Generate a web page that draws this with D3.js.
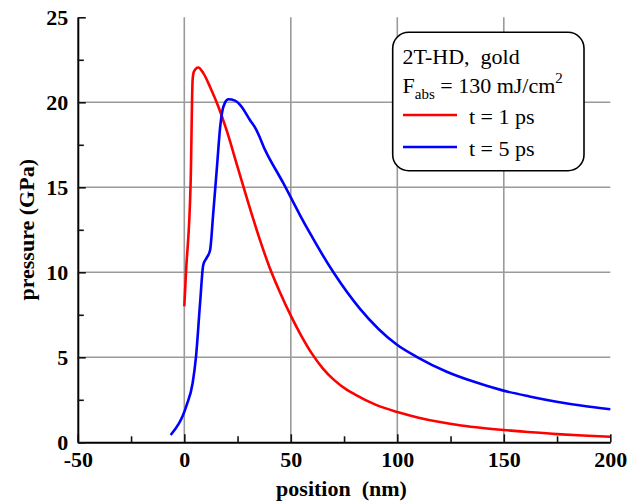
<!DOCTYPE html>
<html>
<head>
<meta charset="utf-8">
<script src="https://cdn.jsdelivr.net/npm/d3@7"></script>
<style>
  html, body { margin: 0; padding: 0; background: #fff; }
  svg { display: block; }
  text { font-family: "Liberation Serif", "Times New Roman", Times, serif; }
</style>
</head>
<body>
<svg id="chart" width="638" height="502"></svg>
<script>
// Pressure profiles from the two-temperature hydrodynamics (2T-HD) run, gold target
const position1ps = [0, 0.8, 3.0, 3.9, 4.5, 6.5, 9, 12.1, 16, 20, 25, 30, 35, 40, 45, 50, 55, 60, 65, 70, 76.2, 80, 90, 100, 110, 120, 130, 140, 150, 160, 175, 187, 200];
const pressure1ps = [8, 10, 15.4, 21.3, 21.8, 22.05, 21.7, 20.9, 19.74, 18.3, 16.2, 14.1, 12.1, 10.3, 8.8, 7.45, 6.25, 5.2, 4.35, 3.7, 3.1, 2.82, 2.2, 1.78, 1.45, 1.19, 0.99, 0.84, 0.72, 0.62, 0.48, 0.40, 0.33];

const position5ps = [-6.4, 1.1, 3.9, 5.5, 7.4, 8.9, 10.5, 12.1, 13.6, 15.4, 16.8, 17.8, 19.0, 20.7, 23.8, 26.2, 30.8, 33.5, 35.5, 37.9, 38.7, 46.5, 54.3, 59, 70, 82.5, 99.7, 109.5, 123.2, 135, 149.8, 162, 174.8, 187, 200];
const pressure5ps = [0.43, 2.19, 3.47, 5.04, 8.18, 10.43, 10.85, 11.3, 13.5, 16.3, 18.5, 19.45, 19.95, 20.18, 20.1, 19.85, 18.96, 18.45, 17.92, 17.2, 17.0, 15.24, 13.37, 12.3, 10.0, 7.85, 5.75, 5.0, 4.15, 3.6, 3.04, 2.7, 2.39, 2.15, 1.94];

const xTicks = [-50, 0, 50, 100, 150, 200];
const xMinorTicks = [-25, 25, 75, 125, 175];
const xGrid = [0, 50, 100, 150];
const yTicks = [0, 5, 10, 15, 20, 25];
const yMinorTicks = [2.5, 7.5, 12.5, 17.5, 22.5];
const yGrid = [5, 10, 15, 20];

const legendTitle = "2T-HD,  gold";
const legendSeries = ["t = 1 ps", "t = 5 ps"];
const seriesColors = ["#ff0000", "#0000ff"];

const svg = d3.select("#chart");
const plotLeft = 77.8, plotRight = 610.3, plotTop = 17.3, plotBottom = 442.3;

const x = d3.scaleLinear().domain([-50, 200]).range([plotLeft, plotRight]);
const y = d3.scaleLinear().domain([0, 25]).range([plotBottom, plotTop]);

// grid
const grid = svg.append("g").attr("stroke", "#9a9a9a").attr("stroke-width", 1.6);
grid.selectAll("line.vx").data(xGrid).join("line")
  .attr("x1", d => x(d)).attr("x2", d => x(d)).attr("y1", plotTop).attr("y2", plotBottom);
grid.selectAll("line.hy").data(yGrid).join("line")
  .attr("x1", plotLeft).attr("x2", plotRight).attr("y1", d => y(d)).attr("y2", d => y(d));

// curves
const line = d3.line().x(d => x(d[0])).y(d => y(d[1])).curve(d3.curveMonotoneX);
const series = [
  d3.zip(position1ps, pressure1ps),
  d3.zip(position5ps, pressure5ps)
];
svg.append("g").selectAll("path").data(series).join("path")
  .attr("d", line)
  .attr("fill", "none")
  .attr("stroke", (d, i) => seriesColors[i])
  .attr("stroke-width", 2.6)
  .attr("stroke-linejoin", "round");

// axes with inward ticks
function styleAxis(g) {
  g.selectAll("path.domain").attr("stroke", "#000").attr("stroke-width", 2);
  g.selectAll(".tick line").attr("stroke", "#111").attr("stroke-width", 1.6);
}
const plainNumber = d => String(d);
const xAxis = svg.append("g").attr("transform", `translate(0,${plotBottom})`)
  .call(d3.axisBottom(x).tickValues(xTicks).tickSizeInner(-8).tickSizeOuter(0).tickPadding(12).tickFormat(plainNumber));
xAxis.call(styleAxis);
xAxis.selectAll(".tick text")
  .attr("font-size", 22).attr("font-weight", "bold").attr("fill", "#000")
  .attr("font-family", "'Liberation Serif', 'Times New Roman', serif")
  .attr("y", 24.5).attr("dy", 0);
const xMinor = svg.append("g").attr("transform", `translate(0,${plotBottom})`)
  .call(d3.axisBottom(x).tickValues(xMinorTicks).tickSizeInner(-6).tickSizeOuter(0).tickFormat(""));
xMinor.select("path.domain").remove();
xMinor.call(styleAxis);

const yAxis = svg.append("g").attr("transform", `translate(${plotLeft},0)`)
  .call(d3.axisLeft(y).tickValues(yTicks).tickSizeInner(-8).tickSizeOuter(0).tickPadding(9).tickFormat(plainNumber));
yAxis.call(styleAxis);
yAxis.selectAll(".tick text")
  .attr("font-size", 22).attr("font-weight", "bold").attr("fill", "#000")
  .attr("font-family", "'Liberation Serif', 'Times New Roman', serif")
  .attr("x", -9.5).attr("dy", "0.34em");
const yMinor = svg.append("g").attr("transform", `translate(${plotLeft},0)`)
  .call(d3.axisLeft(y).tickValues(yMinorTicks).tickSizeInner(-6).tickSizeOuter(0).tickFormat(""));
yMinor.select("path.domain").remove();
yMinor.call(styleAxis);

// axis titles
svg.append("text")
  .attr("x", 341.5).attr("y", 495.5)
  .attr("text-anchor", "middle")
  .attr("font-size", 22).attr("font-weight", "bold")
  .style("white-space", "pre")
  .text("position  (nm)");
svg.append("text")
  .attr("transform", `translate(33.5,${(plotTop + plotBottom) / 2}) rotate(-90)`)
  .attr("text-anchor", "middle")
  .attr("font-size", 22).attr("font-weight", "bold")
  .text("pressure (GPa)");

// legend
const lg = svg.append("g");
lg.append("rect")
  .attr("x", 392.7).attr("y", 32.3).attr("width", 191.3).attr("height", 138.4)
  .attr("rx", 16).attr("ry", 16)
  .attr("fill", "#fff").attr("stroke", "#000").attr("stroke-width", 1.6);
lg.append("text")
  .attr("x", 402.5).attr("y", 64.3).attr("font-size", 22)
  .style("white-space", "pre")
  .text(legendTitle);
const f = lg.append("text").attr("x", 402.5).attr("y", 93.3).attr("font-size", 22);
f.append("tspan").text("F");
f.append("tspan").attr("font-size", 15).attr("dy", 6).text("abs");
f.append("tspan").attr("dy", -6).text(" = 130 mJ/cm");
f.append("tspan").attr("font-size", 15).attr("dy", -10).text("2");

const rows = lg.selectAll("g.row").data(legendSeries).join("g")
  .attr("transform", (d, i) => `translate(0,${115 + i * 32})`);
rows.append("line")
  .attr("x1", 403).attr("x2", 457).attr("y1", 0).attr("y2", 0)
  .attr("stroke", (d, i) => seriesColors[i]).attr("stroke-width", 2.6);
rows.append("text")
  .attr("x", 469).attr("y", 9).attr("font-size", 22)
  .text(d => d);
</script>
</body>
</html>
